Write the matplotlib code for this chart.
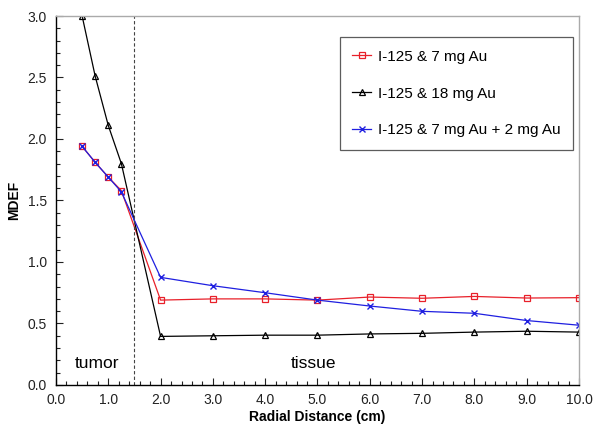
import matplotlib
matplotlib.use("Agg")
import matplotlib.pyplot as plt
from matplotlib.ticker import MultipleLocator, FormatStrFormatter

plt.rcParams['font.family'] = ['Liberation Sans', 'DejaVu Sans']

x = [0.5, 0.75, 1.0, 1.25, 2, 3, 4, 5, 6, 7, 8, 9, 10]
red = [1.94, 1.81, 1.69, 1.58, 0.69, 0.70, 0.70, 0.69, 0.715, 0.705, 0.72, 0.707, 0.71]
black = [3.0, 2.51, 2.11, 1.80, 0.395, 0.40, 0.405, 0.405, 0.415, 0.42, 0.43, 0.437, 0.43]
blue = [1.94, 1.81, 1.69, 1.57, 0.875, 0.807, 0.75, 0.69, 0.642, 0.599, 0.583, 0.524, 0.486]
labels = ["I-125 & 7 mg Au", "I-125 & 18 mg Au", "I-125 & 7 mg Au + 2 mg Au"]

fig = plt.figure(figsize=(6, 4.29), dpi=100)
ax = fig.add_axes([0.0933, 0.1026, 0.8717, 0.8601])

ax.plot(x, red, color='#e8202a', lw=0.9, marker='s', ms=5, mfc='none', mec='#e8202a', mew=0.9, label=labels[0])
ax.plot(x, black, color='black', lw=0.9, marker='^', ms=5, mfc='none', mec='black', mew=0.9, label=labels[1])
ax.plot(x, blue, color='#1f1fe0', lw=0.9, marker='x', ms=5, mec='#1f1fe0', mew=1.0, label=labels[2])

ax.axvline(1.5, color='#444444', lw=0.8, ls=(0, (3, 2)))

ax.set_xlim(0, 10)
ax.set_ylim(0, 3.0)
ax.xaxis.set_major_locator(MultipleLocator(1.0))
ax.xaxis.set_minor_locator(MultipleLocator(0.2))
ax.yaxis.set_major_locator(MultipleLocator(0.5))
ax.yaxis.set_minor_locator(MultipleLocator(0.1))
ax.xaxis.set_major_formatter(FormatStrFormatter('%.1f'))
ax.yaxis.set_major_formatter(FormatStrFormatter('%.1f'))
ax.tick_params(which='both', direction='in', top=False, right=False, labelsize=10, colors='#222222')
ax.tick_params(which='major', length=5, width=0.8)
ax.tick_params(which='minor', length=3, width=0.8)
ax.tick_params(axis='x', pad=6)
ax.tick_params(axis='y', pad=6.5)

for s in ['top', 'right']:
    ax.spines[s].set_color('#aaaaaa')
    ax.spines[s].set_linewidth(1.0)
for s in ['left', 'bottom']:
    ax.spines[s].set_color('black')
    ax.spines[s].set_linewidth(1.0)

ax.set_xlabel('Radial Distance (cm)', fontsize=10, fontweight='bold', labelpad=2)
ax.set_ylabel('MDEF', fontsize=10, fontweight='bold', labelpad=5)

ax.text(0.36, 0.135, 'tumor', fontsize=12.5, va='baseline', ha='left')
ax.text(4.48, 0.135, 'tissue', fontsize=12.5, va='baseline', ha='left')

leg = ax.legend(loc='upper right', bbox_to_anchor=(0.989, 0.942), fontsize=11,
                frameon=True, fancybox=False, edgecolor='#333333', handlelength=1.2,
                handletextpad=0.5, labelspacing=1.5, borderpad=0.8, borderaxespad=0,
                markerscale=0.8)
leg.get_frame().set_linewidth(0.9)

fig.savefig('out.png', dpi=100)
